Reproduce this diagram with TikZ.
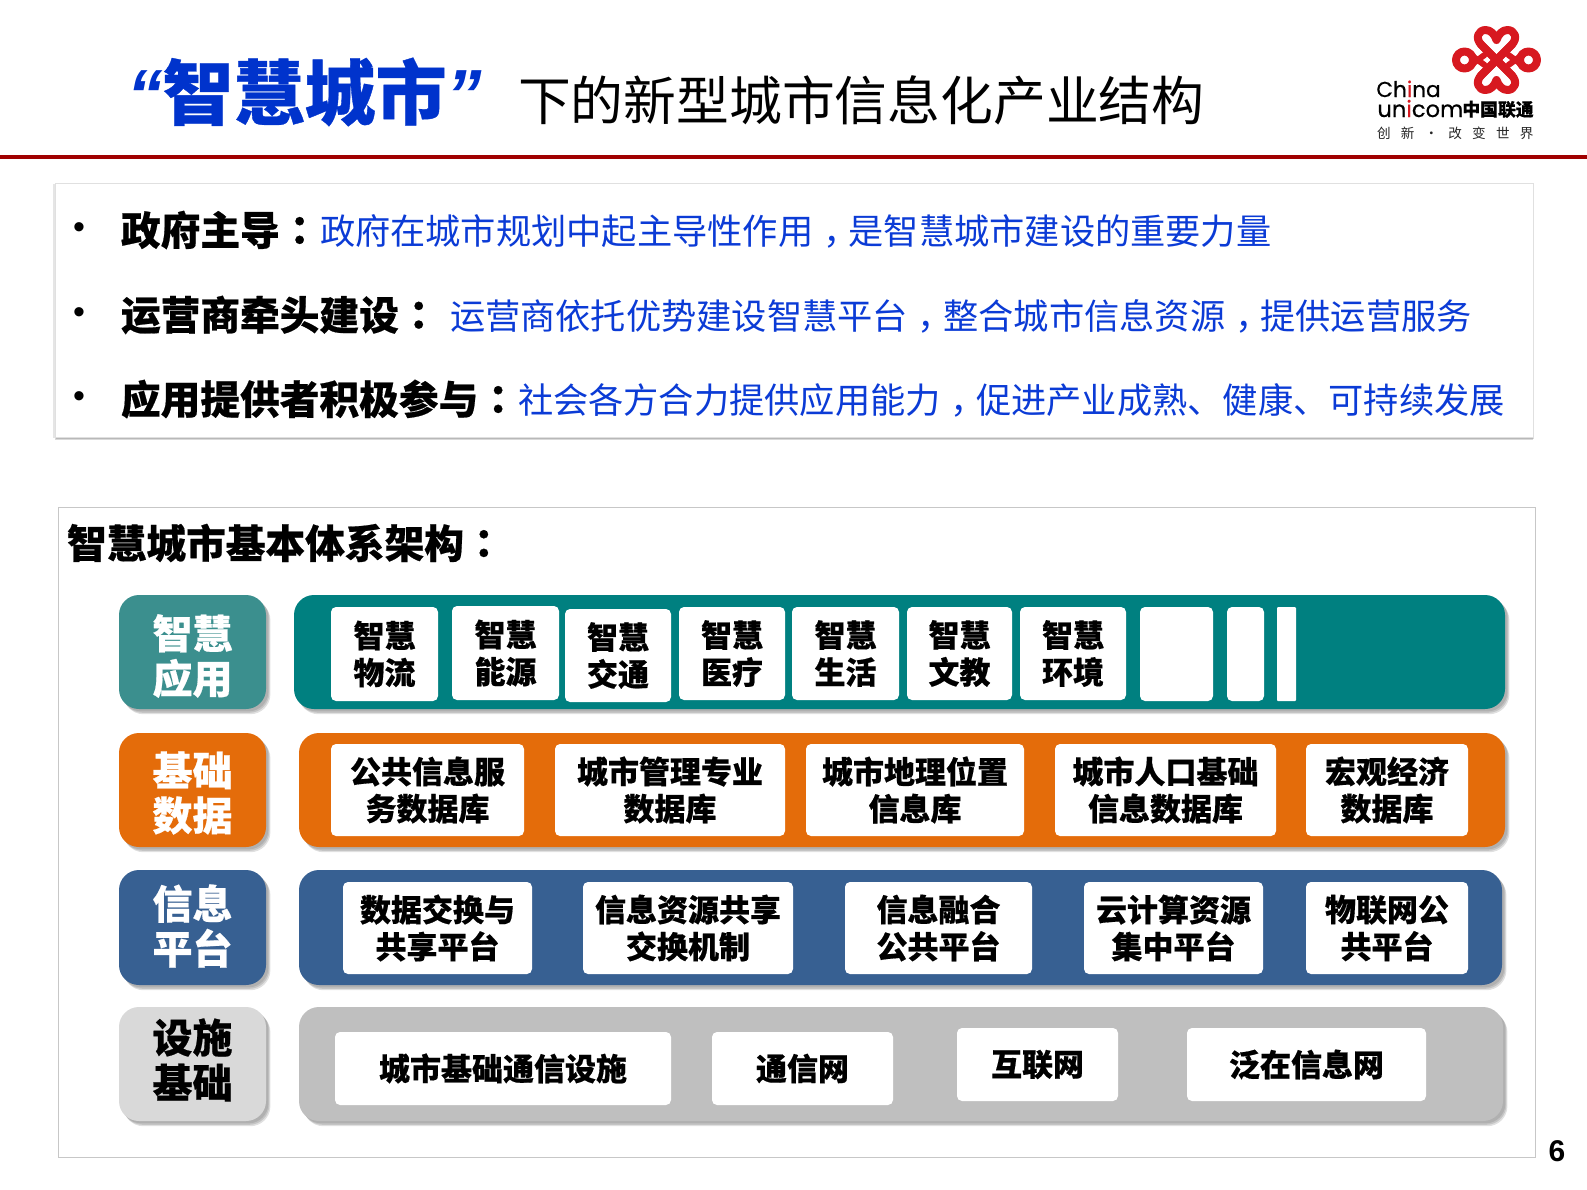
\documentclass[tikz,border=0pt]{standalone}
\usepackage{fontspec}
\usetikzlibrary{shadows}
\setmainfont{Liberation Sans}
\newfontfamily\cjk[BoldFeatures={FakeBold=.5}]{Noto Sans CJK SC}
\newfontfamily\cjktc[BoldFeatures={FakeBold=.5}]{Noto Sans CJK TC}
\newfontfamily\logofont[FakeBold=.5]{Poppins}
\newcommand\fz[1]{\fontsize{#1}{#1}\selectfont}
\newcommand\lcm{\makebox[1em][l]{\hspace{.28em}，}}
\definecolor{tealbar}{HTML}{008080}
\definecolor{teallab}{HTML}{3B8F8E}
\definecolor{orangebar}{HTML}{E46C0A}
\definecolor{bluebar}{HTML}{376092}
\definecolor{greybar}{HTML}{BFBFBF}
\definecolor{greylab}{HTML}{D9D9D9}
\definecolor{titleblue}{HTML}{0033CC}
\definecolor{lineblue}{HTML}{0B3BD6}
\definecolor{rulered}{HTML}{A00000}
\definecolor{logored}{HTML}{D71920}
\tikzset{
  softshadow/.style={
    general shadow={shadow xshift=1.2pt,shadow yshift=-1.2pt,fill=black,opacity=.10},
    general shadow={shadow xshift=1.7pt,shadow yshift=-1.9pt,fill=black,opacity=.12},
    general shadow={shadow xshift=2.2pt,shadow yshift=-2.6pt,fill=black,opacity=.12}},
  bar/.style={rounded corners=10pt,inner sep=0pt,softshadow},
  labtext/.style={inner sep=0pt,align=center,font=\cjk\bfseries\fontsize{20}{22.5}\selectfont},
  wbox/.style={fill=white,rounded corners=2.5pt,inner sep=0pt,align=center,text=black,
    font=\cjk\bfseries\fontsize{15.5}{18.5}\selectfont},
  txt/.style={anchor=west,inner sep=0pt,outer sep=0pt},
  knot/.style={draw=logored,line width=4pt,line join=round,line cap=round},
  knotthin/.style={draw=logored,line width=3pt,line cap=round}
}
\newcommand\bx[7]{\node[#6,minimum width={(#4-#2)*.5pt},minimum height={(#5-#3)*.5pt}] (#1) at ({(#2+#4)/2},{(#3+#5)/2}) {#7};}
\begin{document}
\begin{tikzpicture}[x=.5pt,y=-.5pt]
\useasboundingbox (0,0) rectangle (1587,1190);
\fill[white] (0,0) rectangle (1587,1190);
% title
\node[txt,text=titleblue,font=\cjk\bfseries\fz{35.5}] (t1) at (127,92) {{\rmfamily\bfseries\itshape “}智慧城市{\rmfamily\bfseries\itshape ”}};
\node[txt,font=\cjk\fz{26.4}] (t2) at (518,100) {下的新型城市信息化产业结构};
\coordinate (rl) at (0,157); \coordinate (rr) at (1587,157);
\draw[rulered,line width=1.6pt] (rl) -- (rr);
% logo
\begin{scope}[shift={(1496.5,60)}]
\draw[knot] (16,16) -- (-15,-15) .. controls (-22,-22) and (-18,-30) .. (-11,-30) .. controls (-6,-30) and (-2,-26) .. (0,-20) .. controls (2,-26) and (6,-30) .. (11,-30) .. controls (18,-30) and (22,-22) .. (15,-15) -- (-16,16);
\draw[knot] (16,-16) -- (-15,15) .. controls (-22,22) and (-18,30) .. (-11,30) .. controls (-6,30) and (-2,26) .. (0,20) .. controls (2,26) and (6,30) .. (11,30) .. controls (18,30) and (22,22) .. (15,15) -- (-16,-16);
\draw[knot] (-32,0) circle [radius=8.5];
\draw[knot] (32,0) circle [radius=8.5];
\draw[knotthin] (-27,-6) -- (-12,5);
\draw[knotthin] (-27,6) -- (-12,-5);
\draw[knotthin] (27,-6) -- (12,5);
\draw[knotthin] (27,6) -- (12,-5);
\end{scope}
\node[anchor=base west,inner sep=0pt,font=\logofont\fz{10.8}] (lg1) at (1376,97) {Ch{\color{logored}i}na};
\node[anchor=base west,inner sep=0pt,font=\logofont\fz{11.3}] (lg2) at (1377,117) {un{\color{logored}i}com};
\node[anchor=base west,inner sep=0pt,font=\cjk\bfseries\fz{8.9}] (lg3) at (1462,116) {中国联通};
\node[txt,text=black!85,font=\cjk\fz{6.8}] (lg4) at (1377,133) {创\hspace{5.1pt}新\hspace{5.1pt}·\hspace{5.1pt}改\hspace{5.1pt}变\hspace{5.1pt}世\hspace{5.1pt}界};
% top panel
\node[fill=white,draw=black!12,line width=.4pt,inner sep=0pt,
  general shadow={shadow xshift=-.8pt,shadow yshift=-.4pt,fill=black,opacity=.10},
  general shadow={shadow xshift=.6pt,shadow yshift=-.8pt,fill=black,opacity=.15},
  general shadow={shadow xshift=.2pt,shadow yshift=-1.6pt,fill=black,opacity=.15},
  minimum width={(1533-55)*.5pt},minimum height={(437-183)*.5pt}] (panel) at (794,310) {};
\node[inner sep=0pt,font=\fz{17}] (b1) at (79,231) {•};
\node[inner sep=0pt,font=\fz{17}] (b2) at (79,316) {•};
\node[inner sep=0pt,font=\fz{17}] (b3) at (79,400) {•};
\node[txt,font=\cjk\bfseries\fz{19.85}] (h1) at (121,230) {政府主导{\cjktc：}};
\node[txt,text=lineblue,font=\cjk\fz{17.62}] (d1) at (320,231) {政府在城市规划中起主导性作用\lcm 是智慧城市建设的重要力量};
\node[txt,font=\cjk\bfseries\fz{19.85}] (h2) at (121,315) {运营商牵头建设{\cjktc：}};
\node[txt,text=lineblue,font=\cjk\fz{17.62}] (d2) at (450,316) {运营商依托优势建设智慧平台\lcm 整合城市信息资源\lcm 提供运营服务};
\node[txt,font=\cjk\bfseries\fz{19.85}] (h3) at (121,399) {应用提供者积极参与{\cjktc：}};
\node[txt,text=lineblue,font=\cjk\fz{17.62}] (d3) at (518,400) {社会各方合力提供应用能力\lcm 促进产业成熟、健康、可持续发展};
% frame
\node[draw=black!22,line width=.5pt,inner sep=0pt,minimum width={(1535-58)*.5pt},minimum height={(1157-507)*.5pt}] (frame) at (796.5,832) {};
\node[txt,font=\cjk\bfseries\fz{19.85}] (head) at (67,543) {智慧城市基本体系架构{\cjktc：}};
% row 1
\bx{l1}{119}{595}{266}{709}{bar,fill=teallab}{}
\node[labtext,text=white] (l1t) at (192.5,656) {智慧\\应用};
\bx{r1}{294}{595}{1505}{709}{bar,fill=tealbar}{}
\bx{a1}{331}{607}{438}{701}{wbox}{智慧\\物流}
\bx{a2}{452}{606}{559}{700}{wbox}{智慧\\能源}
\bx{a3}{565}{609}{671}{702}{wbox}{智慧\\交通}
\bx{a4}{679}{607}{785}{700}{wbox}{智慧\\医疗}
\bx{a5}{792}{607}{899}{700}{wbox}{智慧\\生活}
\bx{a6}{907}{607}{1012}{700}{wbox}{智慧\\文教}
\bx{a7}{1020}{607}{1126}{700}{wbox}{智慧\\环境}
\bx{a8}{1140}{607}{1213}{701}{wbox}{}
\bx{a9}{1227}{607}{1264}{701}{wbox}{}
\bx{a10}{1277}{607}{1296}{701}{wbox,rounded corners=.5pt}{}
% row 2
\bx{l2}{119}{733}{266}{847}{bar,fill=orangebar}{}
\node[labtext,text=white] (l2t) at (192.5,793) {基础\\数据};
\bx{r2}{299}{733}{1505}{847}{bar,fill=orangebar}{}
\bx{c1}{331}{744}{524}{836}{wbox}{公共信息服\\务数据库}
\bx{c2}{555}{744}{785}{836}{wbox}{城市管理专业\\数据库}
\bx{c3}{806}{744}{1024}{836}{wbox}{城市地理位置\\信息库}
\bx{c4}{1055}{744}{1276}{836}{wbox}{城市人口基础\\信息数据库}
\bx{c5}{1306}{744}{1468}{836}{wbox}{宏观经济\\数据库}
% row 3
\bx{l3}{119}{870}{266}{985}{bar,fill=bluebar}{}
\node[labtext,text=white] (l3t) at (192.5,926) {信息\\平台};
\bx{r3}{299}{870}{1502}{985}{bar,fill=bluebar}{}
\bx{e1}{343}{882}{532}{974}{wbox}{数据交换与\\共享平台}
\bx{e2}{583}{882}{793}{974}{wbox}{信息资源共享\\交换机制}
\bx{e3}{845}{882}{1032}{974}{wbox}{信息融合\\公共平台}
\bx{e4}{1084}{882}{1263}{974}{wbox}{云计算资源\\集中平台}
\bx{e5}{1306}{882}{1468}{974}{wbox}{物联网公\\共平台}
% row 4
\bx{l4}{119}{1007}{266}{1121}{bar,fill=greylab}{}
\node[labtext,text=black] (l4t) at (192.5,1060) {设施\\基础};
\bx{r4}{299}{1007}{1503}{1121}{bar,fill=greybar}{}
\bx{g1}{335}{1032}{671}{1105}{wbox}{城市基础通信设施}
\bx{g2}{712}{1032}{893}{1105}{wbox}{通信网}
\bx{g3}{957}{1028}{1118}{1101}{wbox}{互联网}
\bx{g4}{1187}{1028}{1426}{1101}{wbox}{泛在信息网}
\node[inner sep=0pt,font=\bfseries\fz{15}] (pg) at (1557,1151) {6};
\end{tikzpicture}
\end{document}
